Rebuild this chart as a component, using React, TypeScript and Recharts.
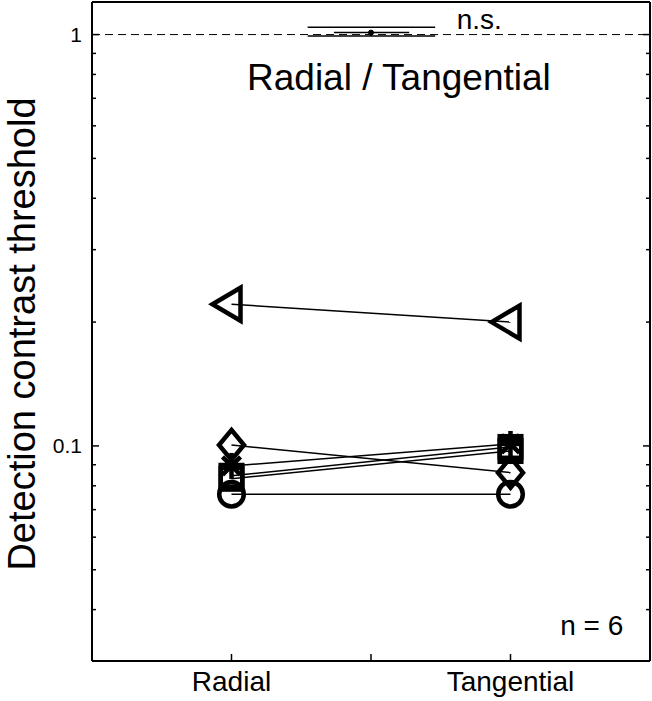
import { LineChart, Line, XAxis, YAxis, ReferenceLine, ReferenceDot } from 'recharts';

// each subject: threshold at the two conditions
const categories = ['Radial', 'Tangential'];
const radialThreshold = [0.221, 0.1005, 0.0763, 0.0894, 0.0846, 0.0832];
const tangentialThreshold = [0.2, 0.0861, 0.0763, 0.1011, 0.0994, 0.0972];
const subjectMarkers = ['triangleLeft', 'diamond', 'circle', 'asterisk', 'square', 'square'];

const categoryPositions = [1, 2];
const xTicks = [1, 1.5, 2];
const majorTicks = [0.1, 1];
const minorTicks = [0.04, 0.05, 0.06, 0.07, 0.08, 0.09, 0.2, 0.3, 0.4, 0.5, 0.6, 0.7, 0.8, 0.9];
const yTicks = [...minorTicks, ...majorTicks].sort((a, b) => a - b);

// n.s. bracket (ratio summary drawn above the unity line)
const bracketOuterX = [1.273, 1.73];
const bracketInnerX = [1.367, 1.637];
const bracketLevels = [1.042, 1.011, 0.992];
const bracketStem = [1.024, 0.992];

const FONT = '"Liberation Sans", Arial, Helvetica, sans-serif';
const W = 652;
const H = 701;
const PL = 92;
const PR = 650;
const PT = 2;
const PB = 661;

const subjects = radialThreshold.map((r, i) => ({
    marker: subjectMarkers[i],
    points: [
        { x: categoryPositions[0], y: r },
        { x: categoryPositions[1], y: tangentialThreshold[i] },
    ],
}));

const Marker = ({ cx, cy, shape }: { cx: number; cy: number; shape: string }) => {
    const s = { fill: 'none', stroke: '#000', strokeWidth: 4.5 };
    switch (shape) {
        case 'triangleLeft':
            return <path d={`M${cx - 19},${cy} L${cx + 9},${cy - 16.5} L${cx + 9},${cy + 16.5} Z`} {...s} />;
        case 'diamond':
            return <path d={`M${cx},${cy - 15} L${cx + 12.5},${cy} L${cx},${cy + 15} L${cx - 12.5},${cy} Z`} {...s} />;
        case 'circle':
            return <circle cx={cx} cy={cy} r={12.3} {...s} />;
        case 'square':
            return <rect x={cx - 10.8} y={cy - 10.8} width={21.6} height={21.6} {...s} />;
        case 'asterisk':
            return (
                <g {...s}>
                    <line x1={cx} y1={cy - 13} x2={cx} y2={cy + 13} />
                    <line x1={cx - 11} y1={cy} x2={cx + 11} y2={cy} />
                    <line x1={cx - 9} y1={cy - 9} x2={cx + 9} y2={cy + 9} />
                    <line x1={cx - 9} y1={cy + 9} x2={cx + 9} y2={cy - 9} />
                </g>
            );
        default:
            return null;
    }
};

const makeDot = (shape: string) => (props: any) => (
    <Marker key={`${shape}-${props.index}`} cx={props.cx} cy={props.cy} shape={shape} />
);

const LeftTick = ({ y, payload }: any) => {
    const major = majorTicks.includes(payload.value);
    return (
        <g>
            <line x1={PL} x2={PL + (major ? 7 : 4)} y1={y} y2={y} stroke="#000" strokeWidth={1.5} />
            {major && (
                <text x={PL - 10} y={y} textAnchor="end" dominantBaseline="central" fontSize={21} fontFamily={FONT} fill="#000">
                    {payload.value}
                </text>
            )}
        </g>
    );
};

const RightTick = ({ y, payload }: any) => {
    const major = majorTicks.includes(payload.value);
    return <line x1={PR} x2={PR - (major ? 7 : 4)} y1={y} y2={y} stroke="#000" strokeWidth={1.5} />;
};

const BottomTick = ({ x, payload }: any) => {
    const idx = categoryPositions.indexOf(payload.value);
    return (
        <g>
            <line x1={x} x2={x} y1={PB} y2={PB - 7} stroke="#000" strokeWidth={1.5} />
            {idx >= 0 && (
                <text x={x} y={PB + 20} textAnchor="middle" dominantBaseline="central" fontSize={28} fontFamily={FONT} fill="#000">
                    {categories[idx]}
                </text>
            )}
        </g>
    );
};

const TopTick = ({ x }: any) => <line x1={x} x2={x} y1={PT} y2={PT + 7} stroke="#000" strokeWidth={1.5} />;

const YLabel = () => (
    <text
        x={22}
        y={334}
        transform="rotate(-90, 22, 334)"
        textAnchor="middle"
        dominantBaseline="central"
        fontSize={38}
        fontFamily={FONT}
        fill="#000"
    >
        Detection contrast threshold
    </text>
);

const textLabel = (value: string, fontSize: number) => ({
    value,
    position: 'center' as const,
    fontSize,
    fontFamily: FONT,
    fill: '#000',
});

const seg = (x: number[], y1: number, y2: number = y1) => [
    { x: x[0], y: y1 },
    { x: x[1], y: y2 },
];

export default function App() {
    return (
        <div style={{ position: 'absolute', left: 0, top: 0, background: '#fff' }}>
            <LineChart width={W} height={H} margin={{ top: PT - 1, right: W - PR - 1, left: 0, bottom: 0 }}>
                <XAxis
                    xAxisId={0}
                    type="number"
                    dataKey="x"
                    domain={[0.5, 2.5]}
                    ticks={xTicks}
                    interval={0}
                    allowDataOverflow
                    height={H - PB}
                    axisLine={{ stroke: '#000', strokeWidth: 2 }}
                    tickLine={false}
                    tick={<BottomTick />}
                />
                <XAxis
                    xAxisId="top"
                    orientation="top"
                    type="number"
                    domain={[0.5, 2.5]}
                    ticks={xTicks}
                    interval={0}
                    allowDataOverflow
                    height={1}
                    axisLine={{ stroke: '#000', strokeWidth: 2 }}
                    tickLine={false}
                    tick={<TopTick />}
                />
                <YAxis
                    yAxisId={0}
                    type="number"
                    scale="log"
                    domain={[0.03, 1.2]}
                    ticks={yTicks}
                    interval={0}
                    allowDataOverflow
                    width={PL}
                    axisLine={{ stroke: '#000', strokeWidth: 2 }}
                    tickLine={false}
                    tick={<LeftTick />}
                    label={<YLabel />}
                />
                <YAxis
                    yAxisId="right"
                    orientation="right"
                    type="number"
                    scale="log"
                    domain={[0.03, 1.2]}
                    ticks={yTicks}
                    interval={0}
                    allowDataOverflow
                    width={1}
                    axisLine={{ stroke: '#000', strokeWidth: 2 }}
                    tickLine={false}
                    tick={<RightTick />}
                />
                <ReferenceLine y={1} stroke="#000" strokeWidth={1} strokeDasharray="8 5" />
                <ReferenceLine segment={seg(bracketOuterX, bracketLevels[0])} stroke="#000" strokeWidth={1.5} />
                <ReferenceLine segment={seg(bracketInnerX, bracketLevels[1])} stroke="#000" strokeWidth={1.5} />
                <ReferenceLine segment={seg(bracketOuterX, bracketLevels[2])} stroke="#000" strokeWidth={1.5} />
                <ReferenceLine segment={[{ x: 1.5, y: bracketStem[0] }, { x: 1.5, y: bracketStem[1] }]} stroke="#000" strokeWidth={1.5} />
                <ReferenceDot x={1.5} y={bracketLevels[1]} r={2.5} fill="#000" stroke="#000" />
                <ReferenceDot x={1.888} y={1.0935} r={0} stroke="none" label={textLabel('n.s.', 28)} />
                <ReferenceDot x={1.6} y={0.791} r={0} stroke="none" label={textLabel('Radial / Tangential', 37)} />
                <ReferenceDot x={2.291} y={0.0366} r={0} stroke="none" label={textLabel('n = 6', 28)} />
                {subjects.map((s, i) => (
                    <Line
                        key={i}
                        data={s.points}
                        dataKey="y"
                        stroke="#000"
                        strokeWidth={1.5}
                        dot={makeDot(s.marker)}
                        activeDot={false}
                        isAnimationActive={false}
                    />
                ))}
            </LineChart>
        </div>
    );
}
